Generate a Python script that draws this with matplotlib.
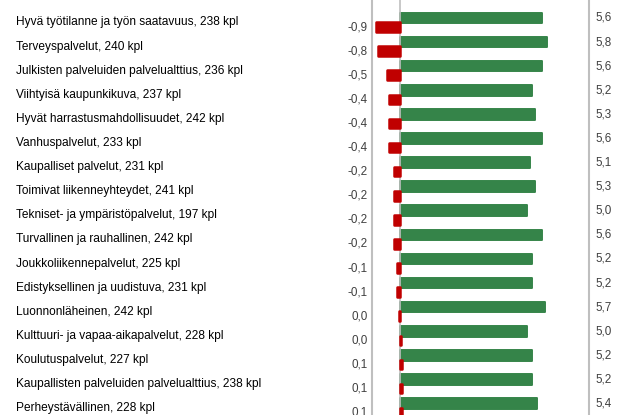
import numpy as np
import matplotlib.pyplot as plt

plt.rcParams['font.family'] = ['Liberation Sans', 'DejaVu Sans']

kategoriat = [
    "Hyvä työtilanne ja työn saatavuus, 238 kpl",
    "Terveyspalvelut, 240 kpl",
    "Julkisten palveluiden palvelualttius, 236 kpl",
    "Viihtyisä kaupunkikuva, 237 kpl",
    "Hyvät harrastusmahdollisuudet, 242 kpl",
    "Vanhuspalvelut, 233 kpl",
    "Kaupalliset palvelut, 231 kpl",
    "Toimivat liikenneyhteydet, 241 kpl",
    "Tekniset- ja ympäristöpalvelut, 197 kpl",
    "Turvallinen ja rauhallinen, 242 kpl",
    "Joukkoliikennepalvelut, 225 kpl",
    "Edistyksellinen ja uudistuva, 231 kpl",
    "Luonnonläheinen, 242 kpl",
    "Kulttuuri- ja vapaa-aikapalvelut, 228 kpl",
    "Koulutuspalvelut, 227 kpl",
    "Kaupallisten palveluiden palvelualttius, 238 kpl",
    "Perheystävällinen, 228 kpl",
]
# keskiarvo (vihreä) ja ero (punainen)
keskiarvo = [5.6, 5.8, 5.6, 5.2, 5.3, 5.6, 5.1, 5.3, 5.0, 5.6, 5.2, 5.2, 5.7, 5.0, 5.2, 5.2, 5.4]
ero = [-0.94, -0.86, -0.51, -0.45, -0.44, -0.42, -0.25, -0.24, -0.25, -0.22,
       -0.12, -0.10, -0.05, 0.03, 0.06, 0.06, 0.08]
ero_teksti = ["-0,9", "-0,8", "-0,5", "-0,4", "-0,4", "-0,4", "-0,2", "-0,2", "-0,2", "-0,2",
              "-0,1", "-0,1", "0,0", "0,0", "0,1", "0,1", "0,1"]

vihrea = '#358449'
punainen = '#C00000'
harmaa = '#BFBFBF'

fig = plt.figure(figsize=(6.25, 4.15), dpi=100)
ax = fig.add_axes([372 / 625, 0, (589 - 372) / 625, 1])

y = np.arange(len(kategoriat))
rivi = 24.1
ax.set_ylim((415 - 22.5) / rivi, -22.5 / rivi)
ax.set_xlim(-28 / 25.4, 189 / 25.4)

ax.barh(y - 0.19, keskiarvo, height=0.44, color=vihrea, edgecolor=vihrea,
        linewidth=1.4, joinstyle='round')
ax.barh(y + 0.19, ero, height=0.40, color=punainen, edgecolor=punainen,
        linewidth=1.8, joinstyle='round', zorder=3)

for i in range(len(kategoriat)):
    ax.text(-1.27, y[i] + 0.19, ero_teksti[i], ha='right', va='center', fontsize=8.4,
            color='#404040', clip_on=False)
    ax.text(7.7, y[i] - 0.19, f"{keskiarvo[i]:.1f}".replace('.', ','), ha='left',
            va='center', fontsize=8.4, color='#404040', clip_on=False)
    fig.text(16 / 625, 1 - (22.5 + rivi * i) / 415, kategoriat[i], ha='left',
             va='center', fontsize=8.6, color='black')

ax.axvline(0, color=harmaa, linewidth=1.2, zorder=1)
for s in ['top', 'bottom']:
    ax.spines[s].set_visible(False)
ax.spines['left'].set_color(harmaa)
ax.spines['right'].set_color(harmaa)
ax.spines['left'].set_linewidth(1.5)
ax.spines['right'].set_linewidth(1.5)
ax.set_xticks([])
ax.set_yticks([])
ax.patch.set_alpha(0)

fig.savefig('out.png', dpi=100)
